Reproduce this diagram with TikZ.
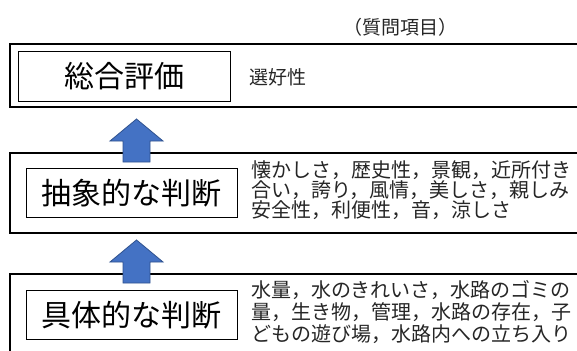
\documentclass[tikz,border=0pt]{standalone}
\usepackage{fontspec}
\setmainfont{Noto Sans CJK JP}
\definecolor{arrowblue}{HTML}{4472C4}
\definecolor{arrowedge}{HTML}{2F528F}
\definecolor{bodytext}{HTML}{262626}
\begin{document}
\begin{tikzpicture}[x=1pt,y=-1pt,
  outerbox/.style={draw=black,line width=1.5pt},
  labelbox/.style={draw=black,line width=1pt,minimum width=211pt,minimum height=49pt,inner sep=0pt,font=\fontsize{30}{30}\selectfont},
  bodyline/.style={anchor=west,inner sep=0pt,text=bodytext,font=\fontsize{20}{20}\selectfont},
  uparrow/.style={fill=arrowblue,draw=arrowedge,line width=0.8pt,line join=miter}]
\useasboundingbox (0,0) rectangle (577,350);
\clip (0,0) rectangle (577,350);
\fill[white] (0,0) rectangle (577,350);

% header
\node[inner sep=0pt,text=bodytext,font=\fontsize{19}{19}\selectfont] (head) at (400,27) {（質問項目）};

% outer boxes
\draw[outerbox] (10,44) rectangle (640,107);
\draw[outerbox] (10,153) rectangle (640,233);
\draw[outerbox] (10,274) rectangle (640,380);

% box 1
\node[labelbox,minimum width=212pt] (l1) at (124,76.5) {総合評価};
\node[bodyline,font=\fontsize{19}{19}\selectfont] (t1) at (249,77.5) {選好性};

% box 2
\node[labelbox] (l2) at (131.5,193) {抽象的な判断};
\node[bodyline] (t2a) at (251,170.5) {懐かしさ，歴史性，景観，近所付き};
\node[bodyline] (t2b) at (251,190.5) {合い，誇り，風情，美しさ，親しみ};
\node[bodyline] (t2c) at (251,210.5) {安全性，利便性，音，涼しさ};

% box 3
\node[labelbox] (l3) at (131.5,315) {具体的な判断};
\node[bodyline] (t3a) at (251,290.5) {水量，水のきれいさ，水路のゴミの};
\node[bodyline] (t3b) at (251,312.5) {量，生き物，管理，水路の存在，子};
\node[bodyline] (t3c) at (251,334.5) {どもの遊び場，水路内への立ち入り};

% arrows
\draw[uparrow] (136.5,119) -- (163,141) -- (150,141) -- (150,162) -- (123,162) -- (123,141) -- (110,141) -- cycle;
\draw[uparrow] (136.5,240) -- (163,262) -- (150,262) -- (150,283) -- (123,283) -- (123,262) -- (110,262) -- cycle;
\end{tikzpicture}
\end{document}
